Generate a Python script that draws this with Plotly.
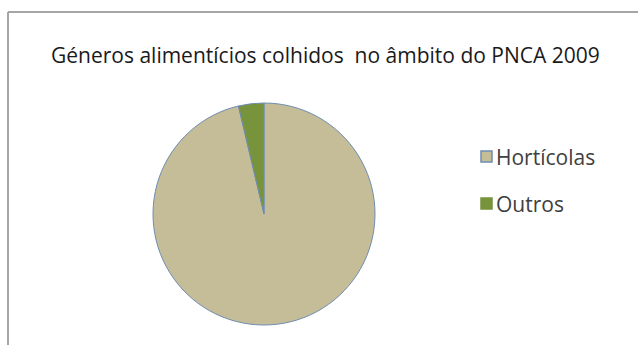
import plotly.graph_objects as go

# Harvested food categories, PNCA 2009 (share of samples, %)
labels = ["Hortícolas", "Outros"]
values = [96.3, 3.7]
colors = ["#c4bd97", "#77933c"]

title_text = "Géneros alimentícios colhidos  no âmbito do PNCA 2009"

W, H = 638, 345
FONT = "Open Sans"

fig = go.Figure()
fig.add_trace(go.Pie(
    labels=labels,
    values=values,
    sort=False,
    direction="clockwise",
    rotation=0,
    marker=dict(colors=colors, line=dict(color="#6f8db3", width=1)),
    textinfo="none",
    hoverinfo="label+percent",
    showlegend=False,
    domain=dict(x=[153 / W, 375 / W], y=[1 - 325 / H, 1 - 103 / H]),
))

# Chart frame (top and left edges visible)
frame = dict(color="#a6a6a6", width=2)
fig.add_shape(type="line", xref="paper", yref="paper",
              x0=8 / W, x1=1.0, y0=1 - 12 / H, y1=1 - 12 / H, line=frame)
fig.add_shape(type="line", xref="paper", yref="paper",
              x0=8 / W, x1=8 / W, y0=1 - 12 / H, y1=0.0, line=frame)

# Legend: colour swatch plus category name
legend_x = 481
legend_y = [156.5, 203.5]
for lab, col, yc in zip(labels, colors, legend_y):
    edge = "#6f8db3" if lab == labels[0] else col
    fig.add_shape(type="rect", xref="paper", yref="paper",
                  x0=legend_x / W, x1=(legend_x + 11) / W,
                  y0=1 - (yc + 5.5) / H, y1=1 - (yc - 5.5) / H,
                  fillcolor=col, line=dict(color=edge, width=1.5))
    fig.add_annotation(x=(legend_x + 13) / W, y=1 - (yc + 0.5) / H,
                       xref="paper", yref="paper", xanchor="left", yanchor="middle",
                       text=lab, showarrow=False,
                       font=dict(family=FONT, size=21, color="#404040"))

fig.add_annotation(x=325.5 / W, y=1 - 55.5 / H, xref="paper", yref="paper",
                   xanchor="center", yanchor="middle", text=title_text,
                   showarrow=False, font=dict(family=FONT, size=21, color="#1a1a1a"))

fig.update_layout(
    width=W, height=H,
    margin=dict(l=0, r=0, t=0, b=0),
    paper_bgcolor="white",
    plot_bgcolor="white",
)

fig.write_html("out.html")
